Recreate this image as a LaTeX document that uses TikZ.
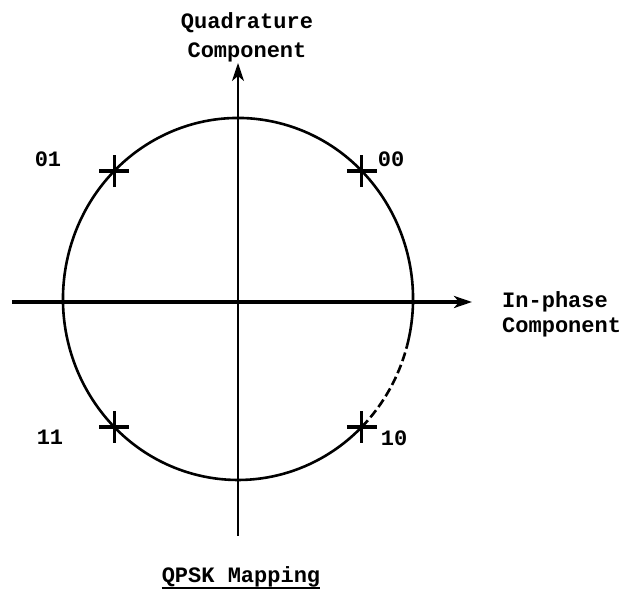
\documentclass[tikz,border=0pt]{standalone}
\usepackage{fontspec}
\setmonofont{Liberation Mono}
\usepackage{tikz}
\usetikzlibrary{arrows.meta}

\begin{document}
\begin{tikzpicture}[
  x=1pt, y=1pt,
  ring/.style={draw, line width=2.6pt},
  axis/.style={draw, -{Stealth[length=18pt, width=12pt, inset=5pt]}},
  tick/.style={draw, line width=2.6pt},
  every node/.style={inner sep=0pt, font=\ttfamily\bfseries\fontsize{22}{29}\selectfont}
]
\useasboundingbox (0,0) rectangle (628,601);

\coordinate (c) at (238,302);
\coordinate (xw) at (12,299);
\coordinate (xe) at (472,299);
\coordinate (ys) at (238,65);
\coordinate (yn) at (238,538);

\draw[ring] ([shift={(-15:175 and 181)}]c)
  arc[start angle=-15, end angle=315, x radius=175, y radius=181];
\draw[ring, dash pattern=on 9pt off 4pt] ([shift={(-45:175 and 181)}]c)
  arc[start angle=-45, end angle=-15, x radius=175, y radius=181];

\draw[axis, line width=3.4pt] (xw) -- (xe);
\draw[axis, line width=2.2pt] (ys) -- (yn);

\coordinate (p00) at ([shift={(45:175 and 181)}]c);
\coordinate (p01) at ([shift={(135:175 and 181)}]c);
\coordinate (p11) at ([shift={(225:175 and 181)}]c);
\coordinate (p10) at ([shift={(315:175 and 181)}]c);
\foreach \p in {p00,p01,p11,p10} {
  \draw[tick, line width=3.2pt] ([xshift=-15pt]\p) -- ([xshift=15pt]\p);
  \draw[tick] ([yshift=-16pt]\p) -- ([yshift=16pt]\p);
}

\node[anchor=base] (l01) at (48,434) {01};
\node[anchor=base] (l00) at (391,434) {00};
\node[anchor=base] (l11) at (50,156) {11};
\node[anchor=base] (l10) at (394,155) {10};

\node[anchor=north, align=center] (quad) at (247,589) {Quadrature\\Component};
\node[anchor=north west, align=left,
  font=\ttfamily\bfseries\fontsize{22}{25}\selectfont] (inph) at (502,310) {In-phase\\Component};

\node[anchor=base] (title) at (241,18) {QPSK Mapping};
\draw[line width=1.8pt] ([yshift=-5pt]title.base west) -- ([yshift=-5pt]title.base east);

\end{tikzpicture}
\end{document}
